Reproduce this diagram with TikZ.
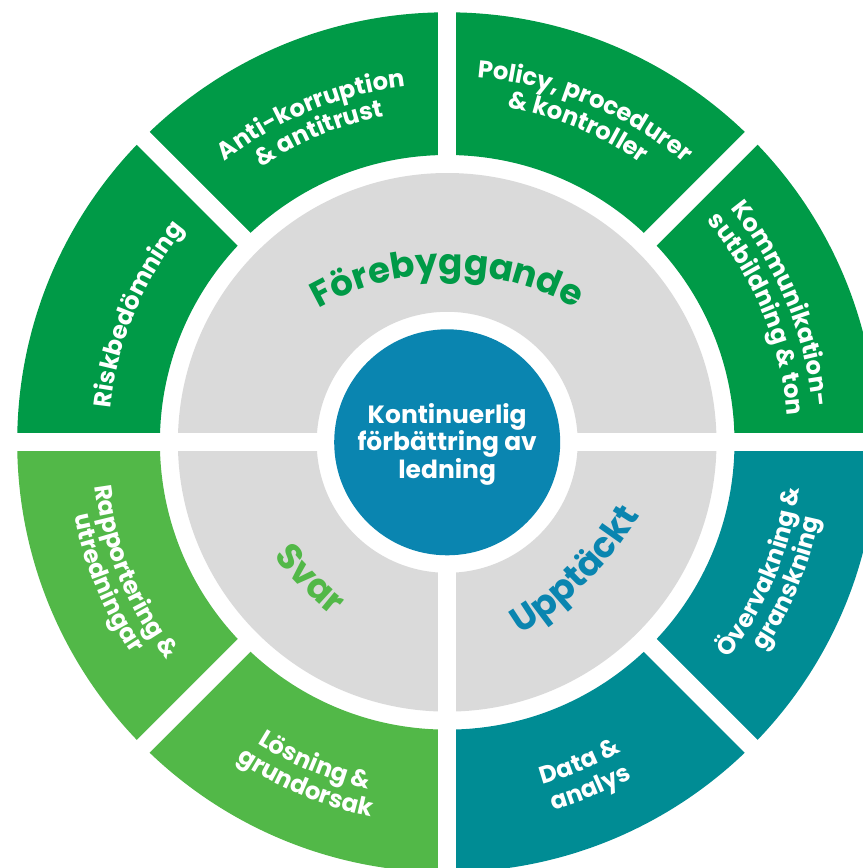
\documentclass[tikz,border=0pt]{standalone}
\usepackage{fontspec}
\setmainfont{Poppins}
\usepackage{xcolor}
\definecolor{wheel-green}{HTML}{009A47}
\definecolor{wheel-lime}{HTML}{52B848}
\definecolor{wheel-teal}{HTML}{008C94}
\definecolor{wheel-blue}{HTML}{0A85B0}
\definecolor{wheel-gray}{HTML}{DADADA}
\usepackage{tikz}
\usetikzlibrary{decorations.text, calc}

\newcommand{\hubfont}{\fontsize{14.2}{15.6}\selectfont\bfseries}
\newcommand{\segfont}{\fontsize{13.8}{15}\selectfont\bfseries}
\newcommand{\phasefont}{\fontsize{20.3}{22}\selectfont\bfseries}

\tikzset{
    ringgap/.style={white, line width=3.6mm},
    ringtext/.style 2 args={decorate, decoration={text along path, text align=center, text color=#1, text={#2}}},
}

\begin{document}
\begin{tikzpicture}[x=0.2mm, y=0.2mm]

    % Frame
    \useasboundingbox (-447.2,-425.7) rectangle (415.8,442.3);
    \clip (-447.2,-425.7) rectangle (415.8,442.3);

    % Outer ring
    \fill[wheel-green] (0:430) arc[start angle=0, end angle=180, radius=430] -- (180:287.3) arc[start angle=180, end angle=0, radius=287.3] -- cycle;
    \fill[wheel-teal] (-90:430) arc[start angle=-90, end angle=0, radius=430] -- (0:287.3) arc[start angle=0, end angle=-90, radius=287.3] -- cycle;
    \fill[wheel-lime] (180:430) arc[start angle=180, end angle=270, radius=430] -- (270:287.3) arc[start angle=270, end angle=180, radius=287.3] -- cycle;

    % Middle ring
    \fill[wheel-gray, even odd rule] (0,0) circle (269.3) (0,0) circle (130.5);

    % Gaps
    \draw[ringgap] (-440,0) -- (440,0);
    \draw[ringgap] (0,278) -- (0,440);
    \draw[ringgap] (0,-440) -- (0,0);
    \foreach \a in {45,135,225,315}
        \draw[ringgap] (\a:278) -- (\a:440);

    % Hub
    \fill[wheel-blue] (0,0) circle (113);
    \node[white, align=center, font=\hubfont] (hub) at (0,-2) {Kontinuerlig\\förbättring av\\ledning};

    % Phases
    \path[ringtext={wheel-green}{|\phasefont|Förebyggande}] ($(90:-92)+(170:260)$) arc[start angle=170, end angle=10, radius=260];
    \path[ringtext={wheel-lime}{|\phasefont|Svar}] ($(225:-144)+(165:350)$) arc[start angle=165, end angle=285, radius=350];
    \path[ringtext={wheel-blue}{|\phasefont|Upptäckt}] ($(-45:-152)+(-105:350)$) arc[start angle=-105, end angle=15, radius=350];

    % Top segments
    \path[ringtext={white}{|\segfont|Riskbedömning}] (247.5:338) arc[start angle=247.5, end angle=67.5, radius=338];
    \path[ringtext={white}{|\segfont|Anti-korruption}] (202.5:358) arc[start angle=202.5, end angle=22.5, radius=358];
    \path[ringtext={white}{|\segfont|{\&} antitrust}] (202.5:332) arc[start angle=202.5, end angle=22.5, radius=332];
    \path[ringtext={white}{|\segfont|Policy, procedurer}] (157.5:366) arc[start angle=157.5, end angle=-22.5, radius=366];
    \path[ringtext={white}{|\segfont|{\&} kontroller}] (157.5:340) arc[start angle=157.5, end angle=-22.5, radius=340];
    \path[ringtext={white}{|\segfont|Kommunikation-}] (112.5:367) arc[start angle=112.5, end angle=-67.5, radius=367];
    \path[ringtext={white}{|\segfont|sutbildning {\&} ton}] (112.5:341) arc[start angle=112.5, end angle=-67.5, radius=341];

    % Bottom segments
    \path[ringtext={white}{|\segfont|Övervakning {\&}}] (-112.5:355) arc[start angle=-112.5, end angle=67.5, radius=355];
    \path[ringtext={white}{|\segfont|granskning}] (-112.5:380) arc[start angle=-112.5, end angle=67.5, radius=380];
    \path[ringtext={white}{|\segfont|Data {\&}}] (-157.5:355) arc[start angle=-157.5, end angle=22.5, radius=355];
    \path[ringtext={white}{|\segfont|analys}] (-157.5:383) arc[start angle=-157.5, end angle=22.5, radius=383];
    \path[ringtext={white}{|\segfont|Lösning {\&}}] (-202.5:356) arc[start angle=-202.5, end angle=-22.5, radius=356];
    \path[ringtext={white}{|\segfont|grundorsak}] (-202.5:382) arc[start angle=-202.5, end angle=-22.5, radius=382];
    \path[ringtext={white}{|\segfont|Rapportering {\&}}] (112.5:355) arc[start angle=112.5, end angle=292.5, radius=355];
    \path[ringtext={white}{|\segfont|utredningar}] (112.5:380) arc[start angle=112.5, end angle=292.5, radius=380];

\end{tikzpicture}
\end{document}
